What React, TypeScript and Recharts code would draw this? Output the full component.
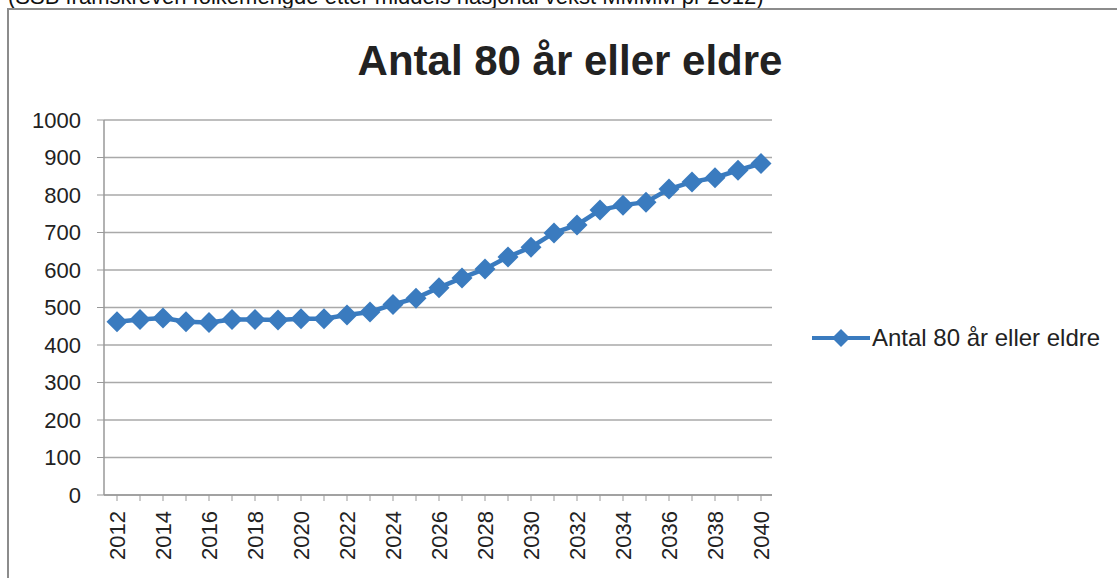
import { CartesianGrid, Line, LineChart, XAxis, YAxis } from "recharts";

const years = [
  2012, 2013, 2014, 2015, 2016, 2017, 2018, 2019, 2020, 2021, 2022, 2023, 2024, 2025, 2026,
  2027, 2028, 2029, 2030, 2031, 2032, 2033, 2034, 2035, 2036, 2037, 2038, 2039, 2040,
];
const antal80 = [
  462, 468, 472, 462, 460, 468, 468, 467, 470, 470, 480, 488, 508, 525, 553,
  579, 603, 635, 661, 699, 720, 760, 773, 781, 816, 835, 846, 866, 884,
];
const yTicks = [0, 100, 200, 300, 400, 500, 600, 700, 800, 900, 1000];

const seriesName = "Antal 80 år eller eldre";
const title = "Antal 80 år eller eldre";
const caption = "(SSB framskreven folkemengde etter middels nasjonal vekst MMMM pr 2012)";

const data = years.map((y, i) => ({ year: String(y), value: antal80[i] }));

const BLUE = "#3a7bbf";
const FONT = "'Liberation Sans', Arial, sans-serif";

const Diamond = (props: any) => {
  const { cx, cy } = props;
  if (cx == null || cy == null) return null;
  const r = 10.5;
  return (
    <path
      d={`M${cx},${cy - r} L${cx + r},${cy} L${cx},${cy + r} L${cx - r},${cy} Z`}
      fill={BLUE}
    />
  );
};

const YearTick = (props: any) => {
  const { x, y, payload, index } = props;
  if (index % 2 !== 0) return null;
  return (
    <text
      transform={`translate(${x},${y + 8}) rotate(-90)`}
      textAnchor="end"
      dominantBaseline="central"
      fontSize={22}
      fontFamily={FONT}
      fill="#222"
    >
      {payload.value}
    </text>
  );
};

export default function App() {
  return (
    <div
      style={{
        position: "absolute",
        left: 0,
        top: 0,
        width: 1117,
        height: 578,
        overflow: "hidden",
        background: "#fff",
      }}
    >
      <div
        style={{
          position: "absolute",
          left: 8,
          top: -16,
          fontFamily: FONT,
          fontSize: 22,
          color: "#111",
          whiteSpace: "nowrap",
        }}
      >
        {caption}
      </div>
      <div
        style={{
          position: "absolute",
          left: 7,
          top: 8,
          width: 1300,
          height: 800,
          border: "2px solid #8c8c8c",
        }}
      />
      <div
        style={{
          position: "absolute",
          left: 0,
          top: 37,
          width: 1140,
          textAlign: "center",
          fontFamily: FONT,
          fontWeight: "bold",
          fontSize: 42,
          color: "#222",
        }}
      >
        {title}
      </div>
      <div
        style={{
          position: "absolute",
          left: 812,
          top: 324,
          display: "flex",
          alignItems: "center",
          fontFamily: FONT,
          fontSize: 24,
          color: "#222",
          whiteSpace: "nowrap",
        }}
      >
        <svg width={58} height={26}>
          <line x1={0} y1={13} x2={58} y2={13} stroke={BLUE} strokeWidth={4} />
          <path d="M29,4 L38,13 L29,22 L20,13 Z" fill={BLUE} />
        </svg>
        <span style={{ marginLeft: 2 }}>{seriesName}</span>
      </div>
      <div style={{ position: "absolute", left: 0, top: 0 }}>
        <LineChart
          width={1117}
          height={578}
          data={data}
          margin={{ top: 120, right: 345, bottom: 0, left: 0 }}
        >
          <CartesianGrid vertical={false} stroke="#a9a9a9" strokeWidth={1.5} />
          <XAxis
            dataKey="year"
            height={83}
            interval={0}
            padding={{ left: 13, right: 11 }}
            tick={<YearTick />}
            tickLine={{ stroke: "#999" }}
            tickSize={6}
            axisLine={{ stroke: "#999", strokeWidth: 1.5 }}
          />
          <YAxis
            width={104}
            domain={[0, 1000]}
            ticks={yTicks}
            interval={0}
            tickSize={7}
            tickMargin={16}
            tickLine={{ stroke: "#999" }}
            axisLine={{ stroke: "#999", strokeWidth: 1.5 }}
            tick={{ fontSize: 22, fontFamily: FONT, fill: "#222" }}
          />
          <Line
            type="linear"
            dataKey="value"
            name={seriesName}
            stroke={BLUE}
            strokeWidth={4.5}
            dot={<Diamond />}
            activeDot={false}
            isAnimationActive={false}
          />
        </LineChart>
      </div>
    </div>
  );
}
